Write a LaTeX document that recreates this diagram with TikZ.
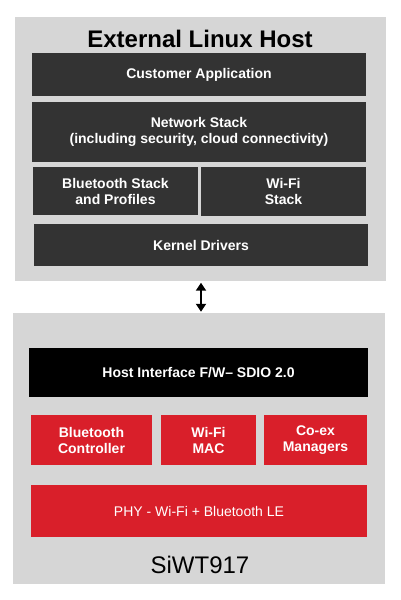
\documentclass[tikz,border=0pt]{standalone}
\usepackage{fontspec}
\setmainfont{Liberation Sans}
\usetikzlibrary{arrows.meta}
\definecolor{panelgray}{HTML}{D6D6D6}
\definecolor{darkgray}{HTML}{333333}
\definecolor{chipred}{HTML}{D91F2A}
\begin{document}
\begin{tikzpicture}
[
 x=1pt, y=-1pt,
 inner sep=0pt,
 PANEL/.style={rectangle, fill=panelgray, draw=none},
 DARKBOX/.style={rectangle, fill=darkgray, text=white, align=center,
   font=\fontsize{14}{16}\selectfont\bfseries},
 BLACKBOX/.style={rectangle, fill=black, text=white, align=center,
   font=\fontsize{14}{16}\selectfont\bfseries},
 REDBOX/.style={rectangle, fill=chipred, text=white, align=center,
   font=\fontsize{14}{16}\selectfont\bfseries},
 ]
\useasboundingbox (0,0) rectangle (400,600);
%
\node [PANEL, minimum width=371pt, minimum height=264pt] (HOST) at (200.5,149) {};
\node [PANEL, minimum width=372pt, minimum height=271pt] (CHIP) at (199,448.5) {};
%
\node [font=\fontsize{24}{28}\selectfont\bfseries] (HOSTTITLE) at (200,39) {External Linux Host};
\node [font=\fontsize{24}{28}\selectfont] (CHIPTITLE) at (200,565) {SiWT917};
%
\node [DARKBOX, minimum width=334pt, minimum height=43pt] (APP)  at (199,74.5) {Customer Application};
\node [DARKBOX, minimum width=334pt, minimum height=60pt] (NET)  at (199,132)
      {Network Stack\\(including security, cloud connectivity)};
\node [DARKBOX, minimum width=165pt, minimum height=48pt] (BTSTACK) at (115.5,191) {Bluetooth Stack\\and Profiles};
\node [DARKBOX, minimum width=165pt, minimum height=49pt] (WIFISTACK) at (283.5,191.5) {Wi-Fi\\Stack};
\node [DARKBOX, minimum width=334pt, minimum height=42pt] (KERNEL) at (201,245) {Kernel Drivers};
%
\node [BLACKBOX, minimum width=339pt, minimum height=49pt] (HIF) at (198.5,372.5) {Host Interface F/W– SDIO 2.0};
\node [REDBOX, minimum width=121pt, minimum height=50pt] (BTCTRL) at (91.5,440) {Bluetooth\\Controller};
\node [REDBOX, minimum width=95pt,  minimum height=50pt] (WIFIMAC) at (208.5,440) {Wi-Fi\\MAC};
\node [REDBOX, minimum width=103pt, minimum height=50pt] (COEX) at (315.5,440) {Co-ex\\Managers};
\node [REDBOX, minimum width=336pt, minimum height=52pt, font=\fontsize{14}{16}\selectfont] (PHY) at (199,511)
      {PHY - Wi-Fi + Bluetooth LE};
%
\draw [line width=2.5pt, {Triangle[width=10pt,length=8pt]}-{Triangle[width=10pt,length=8pt]},
       shorten <=1.5pt, shorten >=1pt]
      ([xshift=0.5pt]HOST.south) -- ([xshift=0.5pt]HOST.south |- CHIP.north);
%
\end{tikzpicture}
\end{document}
